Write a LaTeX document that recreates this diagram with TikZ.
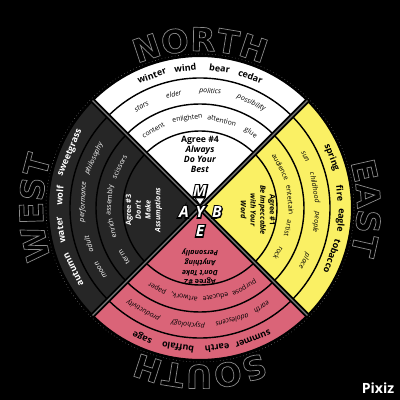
\documentclass[tikz,border=0pt]{standalone}
\usepackage{fontspec}
\setmainfont{Open Sans}
\newfontfamily\dirfont{DejaVu Sans}
\usetikzlibrary{calc,decorations.text}
\definecolor{eastyel}{HTML}{FAF064}
\definecolor{southpink}{HTML}{DA6478}
\definecolor{westgray}{HTML}{262626}
\definecolor{sepgray}{HTML}{7A7A7A}
\definecolor{dirgray}{HTML}{8C8C8C}
\newcommand\hollow[2]{\special{pdf:literal direct #1 Tr #2 w}}

\begin{document}
\begin{tikzpicture}[x=0.025cm,y=0.025cm,
    outw/.style={inner sep=0pt,font=\bfseries\fontsize{6.4}{7}\selectfont},
    midw/.style={inner sep=0pt,font=\itshape\fontsize{5}{6}\selectfont},
    inw/.style={inner sep=0pt,font=\fontsize{4.9}{6}\selectfont},
    agree/.style={align=center,inner sep=0pt,font=\bfseries\fontsize{5.2}{6.9}\selectfont},
    ltr/.style={inner sep=0pt,text=white,font=\bfseries\itshape\fontsize{11}{11}\selectfont},
    dir/.style={decorate,decoration={text along path,text align=center,
      text color=dirgray,text={|\dirfont\bfseries\fontsize{23}{23}\selectfont\hollow{1}{0.5}|#1}}}]
  \fill[black] (-200,-192) rectangle (200,208);
  \useasboundingbox (-200,-192) rectangle (200,208);

  % compass names
  \path[dir=NORTH] (135:157) arc[start angle=135,end angle=45,radius=157];
  \path[dir=EAST] (45:157) arc[start angle=45,end angle=-45,radius=157];
  \path[dir=SOUTH] (-45:157) arc[start angle=-45,end angle=-135,radius=157];
  \path[dir=WEST] (225:157) arc[start angle=225,end angle=135,radius=157];
  \node[inner sep=0pt] (reset) at (0,0) {\hollow{0}{0.5}};
  \draw[sepgray,dotted,line width=0.4pt] (0,0) circle[radius=154];

  % quadrants and bands
  \foreach \s/\c in {45/white,-45/eastyel,-135/southpink,135/westgray}
    \fill[\c] (0,0) -- (\s:152) arc[start angle=\s,delta angle=90,radius=152] -- cycle;
  \foreach \r in {130,104,77}
    \draw[line width=1pt] (0,0) circle[radius=\r];
  \draw[line width=1.5pt] (0,0) circle[radius=152];
  \foreach \a in {45,135} {
    \draw[line width=3.6pt] (\a:153) -- (\a+180:153);
    \draw[sepgray,line width=1pt] (\a:152) -- (\a+180:152);
  }

  % words
  \foreach \a/\w in {110/winter,96/wind,82/bear,69/cedar,21/spring,6/fire,%
      -5/eagle,-20/tobacco,-68/summer,-83/earth,-99/buffalo,-114/sage}
    \node[outw,rotate=\a-90] (o-\w) at (\a:141) {\w};
  \foreach \a/\w in {120/stars,103/elder,85/politics,64/possibility,26/sun,%
      10/childhood,-7/people,-27/place,-58/earth,-74/adolescens,-96/psychology,%
      -119/productivity}
    \node[midw,rotate=\a-90] (m-\w) at (\a:117) {\w};
  \foreach \a/\w in {121/content,98/enlighten,76/attention,56/glue,27/audience,%
      5/entertain,-13/artist,-30/rock,-61/purpose,-80/educate,-100/{artwork,},%
      -118/paper}
    \node[inw,rotate=\a-90] (i-\a) at (\a:90.5) {\w};
  \begin{scope}[every node/.append style={text=white}]
    \foreach \a/\w in {206/autumn,189/water,175/wolf,157/sweetgrass}
      \node[outw,rotate=\a-90] (o-\w) at (\a:141) {\w};
    \foreach \a/\w in {212/moon,198/adult,177/performance,155/philosophy}
      \node[midw,rotate=\a-90] (m-\w) at (\a:117) {\w};
    \foreach \a/\w in {213/term,193/enrich,175/assembly,153/scissors}
      \node[inw,rotate=\a-90] (i-\w) at (\a:90.5) {\w};
  \end{scope}

  % agreements
  \node[agree,font=\bfseries\fontsize{6.2}{7.1}\selectfont] (agree4) at (0,54)
    {Agree \#4\\\textit{Always}\\\textit{Do Your}\\\textit{Best}};
  \node[agree,rotate=-90] (agree1) at (58,-2)
    {Agree \#1\\\textit{Be Impeccable}\\\textit{with Your}\\\textit{Word}};
  \node[agree,rotate=180] (agree2) at (0,-59)
    {Agree \#2\\\textit{Don't Take}\\\textit{Anything}\\\textit{Personally}};
  \node[agree,rotate=90,text=white] (agree3) at (-56,-2)
    {Agree \#3\\\textit{Don't}\\\textit{Make}\\\textit{Assumptions}};

  % centre letters
  \draw[fill=white,line width=0.6pt] (-5,10) -- (5,10) -- (0,3) -- cycle;
  \foreach \l/\x/\y in {M/0/17,A/-16/-4,Y/0/-4,B/17/-4,E/0/-23} {
    \node[ltr,text=black] (k-\l) at (\x,\y) {\hollow{1}{1.8}\l\hollow{0}{0.5}};
    \node[ltr] (c-\l) at (\x,\y) {\l};
  }

  \node[text=white,font=\bfseries\fontsize{10}{10}\selectfont] (pixiz) at (178,-180) {Pixiz};
\end{tikzpicture}
\end{document}
